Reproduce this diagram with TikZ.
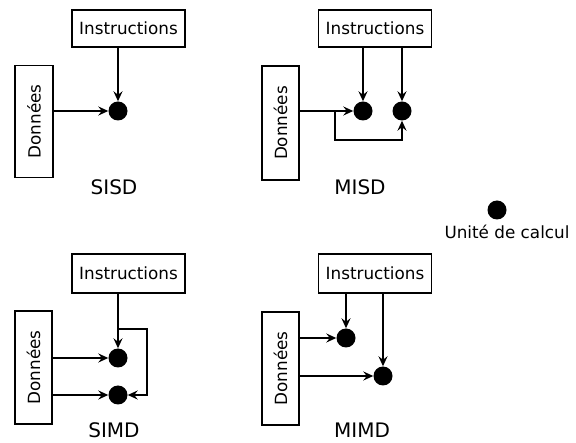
\documentclass[tikz,border=0pt]{standalone}
\usepackage{fontspec}
\setmainfont{DejaVu Sans}
\usetikzlibrary{arrows.meta}
\begin{document}
\begin{tikzpicture}[x=1pt,y=-1pt,
  lbl/.style={font=\fontsize{16.8pt}{18pt}\selectfont},
  instr/.style={draw,line width=1.7pt,minimum width=113pt,minimum height=37pt,inner sep=0pt,lbl},
  data/.style={draw,line width=1.7pt,minimum width=112pt,minimum height=37pt,inner sep=0pt,lbl,rotate=90},
  unit/.style={circle,fill=black,minimum size=19pt,inner sep=0pt},
  title/.style={font=\fontsize{20pt}{22pt}\selectfont},
  arr/.style={line width=1.7pt,-{Stealth[length=10pt,width=9pt,inset=3.5pt]}},
  ln/.style={line width=1.7pt}]
\useasboundingbox (0,0) rectangle (576,443);
% SISD
\node[instr] (i1) at (128.5,28.5) {Instructions};
\node[data,minimum height=38pt] (d1) at (34,121.5) {Données};
\node[unit] (u1) at (118,111) {};
\node[title] (t1) at (114,187) {SISD};
\draw[arr] (u1 |- i1.south) -- (u1.north);
\draw[arr] (d1.south |- u1) -- (u1.west);
% MISD
\node[instr] (i2) at (375,28.5) {Instructions};
\node[data,minimum width=114pt] (d2) at (280.5,123) {Données};
\node[unit] (u2a) at (363,111) {};
\node[unit] (u2b) at (402,111) {};
\node[title] (t2) at (360,187) {MISD};
\coordinate (b2) at (335,111);
\coordinate (c2) at (335,140);
\draw[arr] (u2a |- i2.south) -- (u2a.north);
\draw[arr] (u2b |- i2.south) -- (u2b.north);
\draw[arr] (d2.south |- u2a) -- (u2a.west);
\draw[arr] (b2) -- (c2) -- (u2b |- c2) -- (u2b.south);
% SIMD
\node[instr,minimum height=39pt] (i3) at (128.5,273.5) {Instructions};
\node[data,minimum width=113pt] (d3) at (33.5,367.5) {Données};
\node[unit] (u3a) at (118,358) {};
\node[unit] (u3b) at (118,395) {};
\node[title] (t3) at (114,430.5) {SIMD};
\coordinate (b3) at (118,329);
\coordinate (c3) at (147,329);
\draw[arr] (u3a |- i3.south) -- (u3a.north);
\draw[arr] (b3) -- (c3) -- (c3 |- u3b) -- (u3b.east);
\draw[arr] (d3.south |- u3a) -- (u3a.west);
\draw[arr] (d3.south |- u3b) -- (u3b.west);
% MIMD
\node[instr,minimum height=39pt] (i4) at (375,273.5) {Instructions};
\node[data,minimum width=113pt] (d4) at (280.5,368.5) {Données};
\node[unit] (u4a) at (346,338) {};
\node[unit] (u4b) at (383,376) {};
\node[title] (t4) at (362,430.5) {MIMD};
\draw[arr] (u4a |- i4.south) -- (u4a.north);
\draw[arr] (u4b |- i4.south) -- (u4b.north);
\draw[arr] (d4.south |- u4a) -- (u4a.west);
\draw[arr] (d4.south |- u4b) -- (u4b.west);
% legend
\node[unit] (lg) at (497,210) {};
\node[lbl] (lgt) at (507,232) {Unité de calcul};
\end{tikzpicture}
\end{document}
